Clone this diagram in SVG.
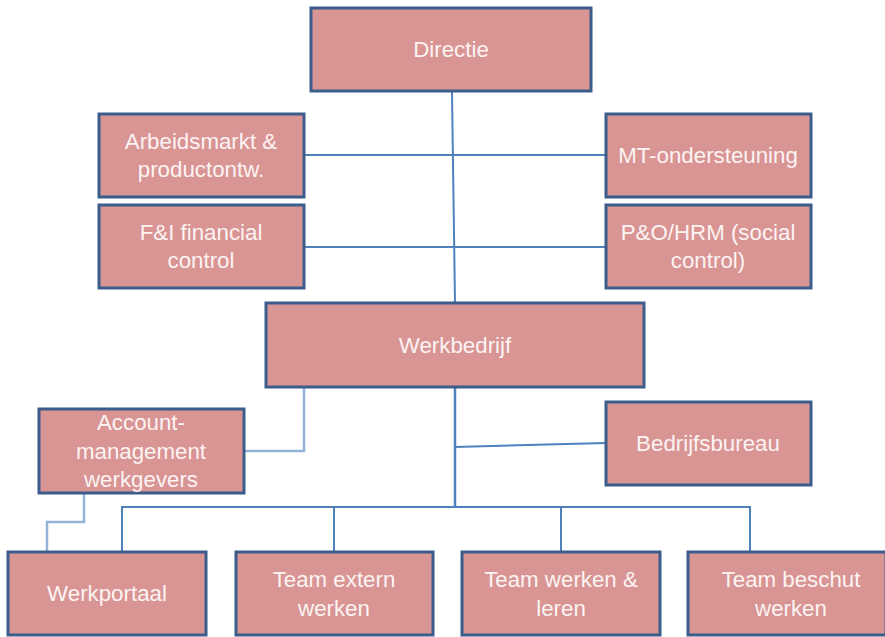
<svg xmlns="http://www.w3.org/2000/svg" width="885" height="637" viewBox="0 0 885 637">
<style>
.box{fill:#d99594;stroke:#3a5d8b;stroke-width:3}
.t{font-family:"Liberation Sans",Arial,sans-serif;font-size:22.3px;fill:#fcf3f3;text-anchor:middle}
.c{fill:none;stroke:#4f81bd;stroke-width:2}
.cl{fill:none;stroke:#95b3d7;stroke-width:2.5}
</style>
<rect width="885" height="637" fill="#ffffff"/>
<g id="connectors">
<path class="c" d="M452 92 L455 303"/>
<path class="c" d="M304 155 H606"/>
<path class="c" d="M304 247 H606"/>
<path class="cl" d="M304 387 V451 H244"/>
<path class="c" d="M455 387 V507" style="stroke-width:2.5"/>
<path class="c" d="M455 447 L606 443"/>
<path class="c" d="M122 551 V507 H750 V551"/>
<path class="c" d="M334 507 V551"/>
<path class="c" d="M561 507 V551"/>
<path class="cl" d="M84 493 V522 H47 V551"/>
</g>
<g id="directie"><rect class="box" x="311" y="8" width="280" height="83"/><text class="t" x="451" y="57">Directie</text></g>
<g id="arbeidsmarkt"><rect class="box" x="99" y="114" width="205" height="83"/><text class="t" x="201" y="149">Arbeidsmarkt &amp;</text><text class="t" x="201" y="177">productontw.</text></g>
<g id="fi"><rect class="box" x="99" y="205" width="205" height="83"/><text class="t" x="201" y="240">F&amp;I financial</text><text class="t" x="201" y="268">control</text></g>
<g id="mt"><rect class="box" x="606" y="114" width="205" height="83"/><text class="t" x="708" y="163">MT-ondersteuning</text></g>
<g id="po"><rect class="box" x="606" y="205" width="205" height="83"/><text class="t" x="708" y="240">P&amp;O/HRM (social</text><text class="t" x="708" y="268">control)</text></g>
<g id="werkbedrijf"><rect class="box" x="266" y="303" width="378" height="84"/><text class="t" x="455" y="353">Werkbedrijf</text></g>
<g id="account"><rect class="box" x="39" y="409" width="205" height="84"/><text class="t" x="141" y="430">Account-</text><text class="t" x="141" y="459">management</text><text class="t" x="141" y="487">werkgevers</text></g>
<g id="bedrijfsbureau"><rect class="box" x="606" y="402" width="205" height="83"/><text class="t" x="708" y="451">Bedrijfsbureau</text></g>
<g id="werkportaal"><rect class="box" x="8" y="552" width="198" height="83"/><text class="t" x="107" y="601">Werkportaal</text></g>
<g id="teamextern"><rect class="box" x="236" y="552" width="197" height="83"/><text class="t" x="334" y="587">Team extern</text><text class="t" x="334" y="616">werken</text></g>
<g id="teamwerken"><rect class="box" x="462" y="552" width="198" height="83"/><text class="t" x="561" y="587">Team werken &amp;</text><text class="t" x="561" y="616">leren</text></g>
<g id="teambeschut"><rect class="box" x="688" y="552" width="198" height="83"/><text class="t" x="791" y="587">Team beschut</text><text class="t" x="791" y="616">werken</text></g>
</svg>
